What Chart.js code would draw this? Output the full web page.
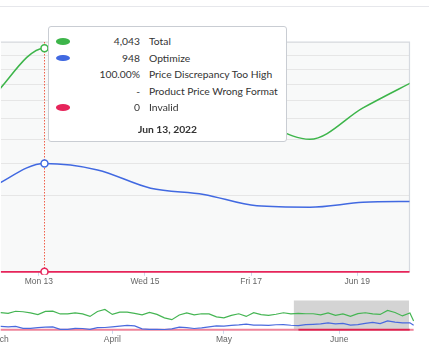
<!DOCTYPE html>
<html lang="en">
<head>
<meta charset="utf-8">
<title>Daily totals</title>
<script src="https://cdn.jsdelivr.net/npm/chart.js@4.4.1/dist/chart.umd.min.js"></script>
<style>
  html, body { margin: 0; padding: 0; background: #fff; }
  body { position: relative; width: 429px; height: 351px; overflow: hidden; }
  .top-rule { position: absolute; left: 0; top: 6px; width: 429px; height: 1px; background: #e6e7eb; }
  #mainChart { position: absolute; left: 0; top: 0; }
  #navChart { position: absolute; left: 0; top: 294px; }
  #tip { position: absolute; left: 48px; top: 26px; width: 237px; height: 114px; background: #fff;
         border: 1px solid #c9cdd3; border-radius: 3px; font-family: Lato, sans-serif; font-size: 10.3px;
         color: #333; display: none; }
  #tip .row { position: absolute; left: 0; right: 0; height: 16px; line-height: 16px; }
  #tip .dot { position: absolute; left: 7px; top: 5px; width: 14px; height: 6.5px; border-radius: 50%; }
  #tip .val { position: absolute; right: 146px; text-align: right; white-space: nowrap; }
  #tip .name { position: absolute; left: 100px; white-space: nowrap; }
  #tip .date { position: absolute; left: 0; right: 0; top: 94px; text-align: center; font-weight: bold; line-height: 16px; }
</style>
</head>
<body>
<div class="top-rule"></div>
<canvas id="mainChart" width="429" height="292"></canvas>
<canvas id="navChart" width="429" height="57"></canvas>
<div id="tip"></div>
<script>
// main chart: one point per day of June 2022
const mainDays = [11, 12, 13, 14, 15, 16, 17, 18, 19, 20];
const totalCounts = [2200, 2440, 4043, 3600, 2900, 2300, 1850, 1420, 2170, 2970];
const optimizeCounts = [600, 576, 948, 839, 565, 484, 352, 338, 390, 401];
const invalidCounts = [0, 0, 0, 0, 0, 0, 0, 0, 0, 0];
const seriesNames = ['Total', 'Optimize', 'Invalid'];
const seriesColors = ['#3db54a', '#4169e1', '#e6245a'];
const extraRows = [['100.00%', 'Price Discrepancy Too High'], ['-', 'Product Price Wrong Format']];
const tickDays = [13, 15, 17, 19];
const tickLabels = ['Mon 13', 'Wed 15', 'Fri 17', 'Jun 19'];
const hoverIndex = 2;
const monthName = 'Jun';
const yearNum = 2022;

// navigator: days counted from March 1
const navDays = [1, 3, 5, 7, 9, 11, 13, 15, 17, 19, 21, 23, 25, 27, 29, 31, 33, 35, 37, 39,
  41, 43, 45, 47, 49, 51, 53, 55, 57, 59, 61, 63, 65, 67, 69, 71, 73, 75, 77, 79,
  81, 83, 85, 87, 89, 91, 93, 95, 97, 99, 101, 103, 105, 107, 109, 111, 112];
const navTotal = [3980, 3795, 4300, 4185, 3910, 3520, 4255, 4325, 3680, 3680,
  3910, 3680, 3105, 4255, 4715, 3565, 4095, 4095, 3795, 3450,
  4025, 3565, 2760, 2345, 3450, 3910, 3450, 3725, 3680, 2990,
  2760, 3335, 3725, 3105, 3955, 3520, 3335, 3610, 3955, 3680,
  3795, 3725, 3725, 3450, 3910, 3335, 3680, 3105, 3750, 3955,
  3680, 3565, 4485, 4025, 3220, 3910, 2025];
const navOptimize = [780, 690, 805, 345, 345, 485, 620, 690, 115, 115,
  345, 300, 115, 505, 530, 690, 850, 1035, 920, 230,
  115, 115, 70, 230, 620, 505, 300, 460, 690, 920,
  875, 1010, 1125, 1310, 1080, 1080, 1035, 1175, 1195, 1060,
  990, 1195, 1265, 1355, 1610, 1380, 1470, 1105, 1195, 1470,
  1725, 1425, 2070, 1795, 1585, 1635, 1035];
const navInvalid = [0, 0, 0, 0, 0, 0, 0, 0, 0, 0, 0, 0, 0, 0, 0, 0, 0, 0, 0, 0,
  0, 0, 0, 0, 0, 0, 0, 0, 0, 0, 0, 0, 0, 0, 0, 0, 0, 0, 0, 0,
  0, 0, 0, 0, 0, 0, 0, 0, 0, 0, 0, 0, 0, 0, 0, 0, 0];
const navMonthDays = [0, 31, 61, 92];
const navMonthLabels = ['March', 'April', 'May', 'June'];
const navSelection = [79.8, 110.75];

// square-root value axis
class SqrtScale extends Chart.LinearScale {
  getPixelForValue(value) {
    const lo = Math.sqrt(this.min), hi = Math.sqrt(this.max);
    return this.getPixelForDecimal((Math.sqrt(Math.max(value, 0)) - lo) / (hi - lo));
  }
  getValueForPixel(pixel) {
    const lo = Math.sqrt(this.min), hi = Math.sqrt(this.max);
    const r = lo + this.getDecimalForPixel(pixel) * (hi - lo);
    return r * r;
  }
}
SqrtScale.id = 'sqrt';
SqrtScale.defaults = Chart.LinearScale.defaults;
Chart.register(SqrtScale);

Chart.defaults.font.family = '"Liberation Sans", Arial, sans-serif';

const plotFrame = {
  id: 'plotFrame',
  beforeDraw(chart) {
    const a = chart.chartArea, ctx = chart.ctx;
    ctx.save();
    ctx.fillStyle = '#f8f9f9';
    ctx.fillRect(a.left, a.top, a.right - a.left, a.bottom - a.top);
    ctx.restore();
  },
  beforeDatasetsDraw(chart) {
    const a = chart.chartArea, ctx = chart.ctx;
    ctx.save();
    ctx.strokeStyle = '#d6dae0';
    ctx.lineWidth = 1.2;
    ctx.beginPath();
    ctx.moveTo(a.left, a.top);
    ctx.lineTo(a.right, a.top);
    ctx.lineTo(a.right, a.bottom);
    ctx.stroke();
    // crosshair on the hovered day
    const act = chart.getActiveElements();
    if (act.length) {
      const x = Math.round(act[0].element.x) + 0.5;
      ctx.strokeStyle = '#f0604a';
      ctx.lineWidth = 1;
      ctx.setLineDash([1.5, 1.5]);
      ctx.beginPath();
      ctx.moveTo(x, a.top);
      ctx.lineTo(x, a.bottom);
      ctx.stroke();
    }
    ctx.restore();
  }
};

function renderTip(context) {
  const tip = document.getElementById('tip');
  const tt = context.tooltip;
  if (!tt.dataPoints || !tt.dataPoints.length) { tip.style.display = 'none'; return; }
  const pts = tt.dataPoints.slice().sort((a, b) => a.datasetIndex - b.datasetIndex);
  const rows = pts.map(p => ({
    color: seriesColors[p.datasetIndex],
    value: p.parsed.y.toLocaleString('en-US'),
    name: seriesNames[p.datasetIndex]
  }));
  rows.splice(2, 0, ...extraRows.map(r => ({ color: null, value: r[0], name: r[1] })));
  let html = '';
  rows.forEach((r, i) => {
    html += '<div class="row" style="top:' + (6.3 + i * 16.5) + 'px">' +
      (r.color ? '<span class="dot" style="background:' + r.color + '"></span>' : '') +
      '<span class="val">' + r.value + '</span><span class="name">' + r.name + '</span></div>';
  });
  html += '<div class="date">' + monthName + ' ' + mainDays[pts[0].dataIndex] + ', ' + yearNum + '</div>';
  tip.innerHTML = html;
  tip.style.display = 'block';
}

function lineSet(label, values, color, width) {
  return {
    label: label,
    data: mainDays.map((d, i) => ({ x: d, y: values[i] })),
    borderColor: color,
    borderWidth: width,
    cubicInterpolationMode: 'monotone',
    pointRadius: 0,
    pointHoverRadius: 3.5,
    pointHoverBorderWidth: 1.5,
    pointHoverBackgroundColor: '#fff',
    pointHoverBorderColor: color,
    clip: { left: 0, top: 0, right: 0, bottom: 3 }
  };
}

const mainChart = new Chart(document.getElementById('mainChart'), {
  type: 'line',
  data: {
    datasets: [
      lineSet(seriesNames[0], totalCounts, seriesColors[0], 1.5),
      lineSet(seriesNames[1], optimizeCounts, seriesColors[1], 1.5),
      lineSet(seriesNames[2], invalidCounts, seriesColors[2], 1.8)
    ]
  },
  options: {
    responsive: false,
    animation: false,
    events: [],
    layout: { padding: { left: 0, top: 42, right: 19.5, bottom: 4 } },
    plugins: {
      legend: { display: false },
      tooltip: { enabled: false, external: renderTip }
    },
    scales: {
      x: {
        type: 'linear',
        min: 12.179,
        max: 19.876,
        afterBuildTicks: s => { s.ticks = tickDays.map(d => ({ value: d - 0.107 })); },
        afterFit: s => { s.paddingLeft = 0; s.paddingRight = 0; },
        ticks: { callback: (v, i) => tickLabels[i], autoSkip: false, maxRotation: 0,
                 color: '#666', font: { size: 8.5 }, padding: 1 },
        grid: { drawOnChartArea: false, tickLength: 4, color: '#ccd6eb' },
        border: { display: false }
      },
      y: {
        type: 'sqrt',
        min: 0,
        max: 4268,
        ticks: { display: false, stepSize: 500 },
        grid: { color: '#e6e6e6', drawTicks: false },
        border: { display: false }
      }
    }
  },
  plugins: [plotFrame]
});

const active = [0, 1, 2].map(ds => ({ datasetIndex: ds, index: hoverIndex }));
mainChart.setActiveElements(active);
mainChart.tooltip.setActiveElements(active, { x: 0, y: 0 });
mainChart.update();

// navigator
const selectionMask = {
  id: 'selectionMask',
  beforeDatasetsDraw(chart) {
    const a = chart.chartArea, xs = chart.scales.x, ctx = chart.ctx;
    const x0 = xs.getPixelForValue(navSelection[0]), x1 = xs.getPixelForValue(navSelection[1]);
    ctx.save();
    ctx.fillStyle = '#d4d4d4';
    ctx.fillRect(x0, a.top, x1 - x0, a.bottom - a.top + 0.5);
    ctx.restore();
  }
};

function navSet(values, color, width) {
  return {
    data: navDays.map((d, i) => ({ x: d, y: values[i] })),
    borderColor: color,
    borderWidth: width,
    pointRadius: 0,
    tension: 0,
    clip: false
  };
}

const inSelection = d => d >= navSelection[0] && d <= navSelection[1];
const navRed = navSet(navInvalid, seriesColors[2], 2);
navRed.segment = { borderColor: c => inSelection(c.p0.parsed.x) ? '#df1f4d' : '#ee849b' };

new Chart(document.getElementById('navChart'), {
  type: 'line',
  data: {
    datasets: [
      navSet(navTotal, '#45b553', 1.2),
      navSet(navOptimize, '#4a6ade', 1.2),
      navRed
    ]
  },
  options: {
    responsive: false,
    animation: false,
    events: [],
    layout: { padding: { left: 0, top: 6.5, right: 15, bottom: 5 } },
    plugins: { legend: { display: false }, tooltip: { enabled: false } },
    scales: {
      x: {
        type: 'linear',
        min: 0.806,
        max: 112.1,
        afterBuildTicks: s => { s.ticks = navMonthDays.map(d => ({ value: d })); },
        afterFit: s => { s.paddingLeft = 0; s.paddingRight = 0; },
        ticks: { callback: (v, i) => navMonthLabels[i], autoSkip: false, maxRotation: 0,
                 color: '#666', font: { size: 8.5 }, padding: 1 },
        grid: { drawOnChartArea: false, tickLength: 4, color: '#ccd6eb' },
        border: { display: false }
      },
      y: { display: false, min: 0, max: 6800 }
    }
  },
  plugins: [selectionMask]
});
</script>
</body>
</html>
